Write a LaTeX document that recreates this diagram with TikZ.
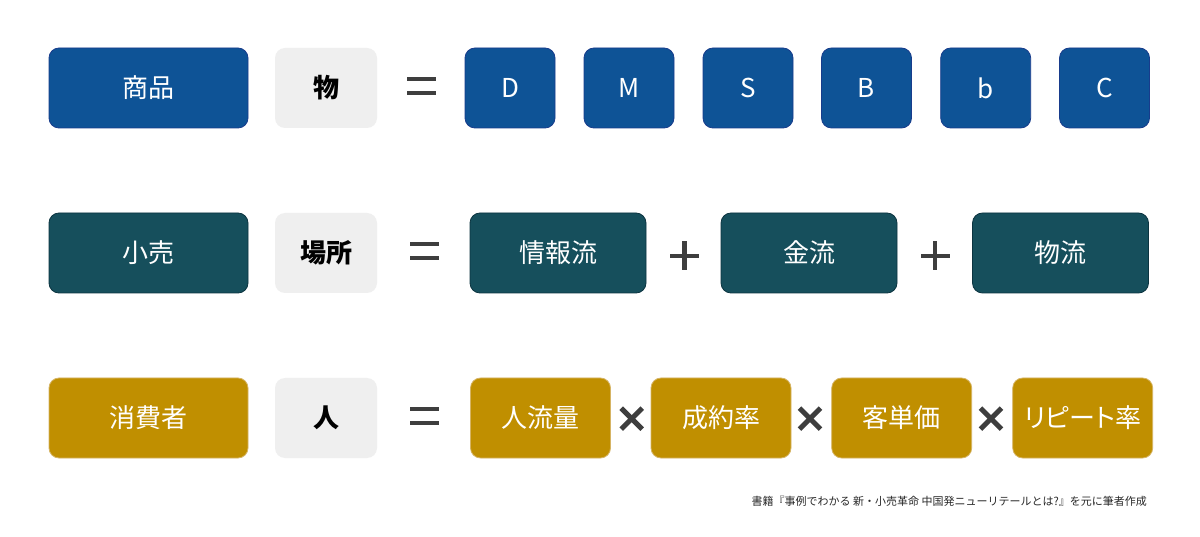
\documentclass[tikz,border=0pt]{standalone}
\usepackage{fontspec}
\setmainfont{Noto Sans CJK JP}
\newfontfamily\jpprop[RawFeature=+palt]{Noto Sans CJK JP}
\definecolor{cblue}{RGB}{14,83,150}
\definecolor{cblueb}{RGB}{24,60,140}
\definecolor{cteal}{RGB}{22,79,92}
\definecolor{ctealb}{RGB}{12,52,64}
\definecolor{cgold}{RGB}{192,143,0}
\definecolor{cgoldb}{RGB}{214,180,100}
\definecolor{cgray}{RGB}{239,239,239}
\definecolor{cop}{RGB}{62,62,62}
\definecolor{cnote}{RGB}{40,40,40}
\tikzset{
  box/.style={rounded corners=10pt, minimum height=80pt, inner sep=0pt, line width=0.8pt,
    text=white, font=\fontsize{26}{26}\selectfont},
  bluebox/.style={box, fill=cblue, draw=cblueb},
  tealbox/.style={box, fill=cteal, draw=ctealb},
  goldbox/.style={box, fill=cgold, draw=cgoldb},
  graybox/.style={box, fill=cgray, draw=none, text=black, minimum width=102pt,
    font=\fontsize{26}{26}\selectfont\bfseries},
  opbar/.style={fill=cop, draw=none},
  opline/.style={draw=cop, line width=5pt},
}
\begin{document}
\begin{tikzpicture}[x=1pt,y=-1pt]
\path[use as bounding box, fill=white] (0,0) rectangle (1200,537);

% Row 1
\node[bluebox, minimum width=199pt] (shohin) at (148.5,88) {商品};
\node[graybox] (mono) at (326,88) {物};
\node[bluebox, minimum width=90pt] (d) at (510,88) {D};
\node[bluebox, minimum width=90pt] (m) at (629,88) {M};
\node[bluebox, minimum width=90pt] (s) at (748,88) {S};
\node[bluebox, minimum width=90pt] (bb) at (866.5,88) {B};
\node[bluebox, minimum width=90pt] (bs) at (985.7,88) {b};
\node[bluebox, minimum width=90pt] (c) at (1104.5,88) {C};

% Row 2
\node[tealbox, minimum width=199pt] (kouri) at (148.5,253) {小売};
\node[graybox] (basho) at (326,253) {場所};
\node[tealbox, minimum width=176pt] (joho) at (558,253) {情報流};
\node[tealbox, minimum width=176pt] (kin) at (809,253) {金流};
\node[tealbox, minimum width=176pt] (butsu) at (1060.5,253) {物流};

% Row 3
\node[goldbox, minimum width=199pt] (shohisha) at (148.5,418) {消費者};
\node[graybox] (hito) at (326,418) {人};
\node[goldbox, minimum width=140pt] (jinryu) at (540.5,418) {人流量};
\node[goldbox, minimum width=140pt] (seiyaku) at (721,418) {成約率};
\node[goldbox, minimum width=140pt] (kyaku) at (901.7,418) {客単価};
\node[goldbox, minimum width=140pt] (repeat) at (1082.7,418) {\jpprop リピート率};

% equals signs
\foreach \cx/\cy in {421.5/86, 424/251, 424/416}{
  \fill[opbar] (\cx-14.5,\cy-9.2) rectangle (\cx+14.5,\cy-4.7);
  \fill[opbar] (\cx-14.5,\cy+4.7) rectangle (\cx+14.5,\cy+9.2);
}
% plus signs
\foreach \cx/\cy in {684.5/256, 935/256}{
  \fill[opbar] (\cx-14.5,\cy-2.3) rectangle (\cx+14.5,\cy+2.3);
  \fill[opbar] (\cx-2.3,\cy-14.5) rectangle (\cx+2.3,\cy+14.5);
}
% times signs
\foreach \cx/\cy in {631.7/418.7, 810/418.7, 991/418.7}{
  \draw[opline] (\cx-10.5,\cy-10.5) -- (\cx+10.5,\cy+10.5);
  \draw[opline] (\cx-10.5,\cy+10.5) -- (\cx+10.5,\cy-10.5);
}

% source note
\node[anchor=east, inner sep=0pt, text=cnote, font=\fontsize{11}{11}\selectfont] (note) at (1147,501.5)
  {書籍『事例でわかる 新・小売革命 中国発ニューリテールとは?』を元に筆者作成};
\end{tikzpicture}
\end{document}
